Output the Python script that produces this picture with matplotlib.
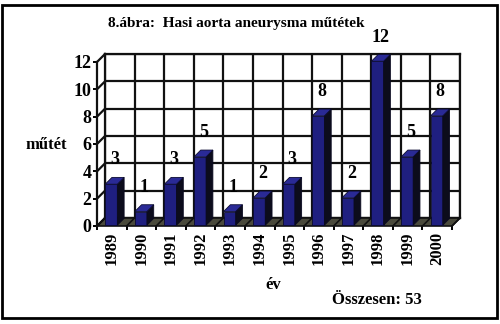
import numpy as np
import matplotlib.pyplot as plt
from matplotlib.patches import Rectangle, Polygon

# data
years = ["1989", "1990", "1991", "1992", "1993", "1994",
         "1995", "1996", "1997", "1998", "1999", "2000"]
counts = [3, 1, 3, 5, 1, 2, 3, 8, 2, 12, 5, 8]
yticks = [0, 2, 4, 6, 8, 10, 12]

title = "8.ábra:  Hasi aorta aneurysma műtétek"
ylab = "műtét"
xlab = "év"

plt.rcParams["font.family"] = ["Liberation Serif", "DejaVu Serif"]
plt.rcParams["font.weight"] = "bold"

W, H = 500, 324
n = len(years)
fig = plt.figure(figsize=(5.0, 3.24), dpi=100)
fig.patch.set_facecolor("white")

# back wall: its own axes, shifted 8 px right and up (the depth of the box)
back = fig.add_axes([105 / W, (H - 218) / H, 355 / W, 164 / H], zorder=0)
back.set_xlim(0, n)
back.set_ylim(0, 12)
back.set_facecolor("white")
back.set_xticks(np.arange(n + 1))
back.set_yticks(yticks)
back.grid(True, color="#111111", lw=1.6)
back.tick_params(length=0, labelbottom=False, labelleft=False)
for s in back.spines.values():
    s.set_linewidth(1.6)
    s.set_color("#111111")

# front plane of the box
ax = fig.add_axes([97 / W, (H - 226) / H, 355 / W, 164 / H], zorder=1)
ax.set_xlim(0, n)
ax.set_ylim(0, 12)
ax.set_autoscale_on(False)
ax.set_facecolor("none")

# depth offset in data units
DX = 8 / (355 / n)
DY = 8 / (164 / 12)

# left wall: diagonals from the front axis to the back wall
for y in yticks:
    ax.plot([0, DX], [y, y + DY], color="#111111", lw=1.6, clip_on=False, zorder=2.5)

# floor
ax.add_patch(Polygon([(0, 0), (n, 0), (n + DX, DY), (DX, DY)], closed=True,
                     facecolor="#4a4a3c", edgecolor="#111111", lw=1.2,
                     clip_on=False, zorder=2.1))
for x in range(n + 1):
    ax.plot([x, x + DX], [0, DY], color="#111111", lw=1.2, clip_on=False, zorder=2.2)

# bars
off, w = 0.25, 0.41
f = 0.1
bdx, bdy = 0.85 * DX, 0.85 * DY
for i, v in enumerate(counts):
    x0 = i + off + f * DX
    y0 = f * DY
    ax.add_patch(Rectangle((x0, y0), w, v, facecolor="#1f1f80", edgecolor="#0a0a30",
                           lw=0.6, clip_on=False, zorder=3))
    ax.add_patch(Polygon([(x0 + w, y0), (x0 + w + bdx, y0 + bdy),
                          (x0 + w + bdx, y0 + v + bdy), (x0 + w, y0 + v)],
                         closed=True, facecolor="#0c0c1c", edgecolor="#0a0a20",
                         lw=0.6, clip_on=False, zorder=3))
    ax.add_patch(Polygon([(x0, y0 + v), (x0 + w, y0 + v),
                          (x0 + w + bdx, y0 + v + bdy), (x0 + bdx, y0 + v + bdy)],
                         closed=True, facecolor="#2a2a96", edgecolor="#0a0a30",
                         lw=0.6, clip_on=False, zorder=3))
    ax.annotate(str(v), (x0 + w / 2 + bdx / 2, v), xytext=(0, 18),
                textcoords="offset points", ha="center", va="center",
                fontsize=13, fontweight="bold", zorder=4, annotation_clip=False)

# axes and ticks
for s in ["top", "right", "bottom"]:
    ax.spines[s].set_visible(False)
ax.spines["left"].set_linewidth(1.6)
ax.spines["left"].set_color("#111111")
ax.set_yticks(yticks)
ax.set_yticklabels([str(t) for t in yticks], fontsize=13, fontweight="bold")
ax.tick_params(axis="y", length=3, width=1.4, pad=1)
ax.set_xticks(np.arange(n) + 0.5)
ax.set_xticklabels(years, rotation=90, fontsize=12, fontweight="bold")
ax.set_xticks(np.arange(n + 1), minor=True)
ax.tick_params(axis="x", which="major", length=0, pad=4)
ax.tick_params(axis="x", which="minor", length=3, width=1.4)

# texts
fig.text(236 / W, 1 - 24 / H, title, ha="center", va="center",
         fontsize=11, fontweight="bold")
fig.text(46 / W, 1 - 145 / H, ylab, ha="center", va="center",
         fontsize=12, fontweight="bold")
fig.text(273 / W, 1 - 285 / H, xlab, ha="center", va="center",
         fontsize=12, fontweight="bold")
fig.text(377 / W, 1 - 300 / H, "Összesen: %d" % sum(counts), ha="center",
         va="center", fontsize=12, fontweight="bold")

# frame around the whole picture
fig.patches.append(Rectangle((2 / W, 1 - 318 / H), 495 / W, 313 / H,
                             transform=fig.transFigure, fill=False,
                             edgecolor="black", lw=2.0))

fig.savefig("out.png", dpi=100)
